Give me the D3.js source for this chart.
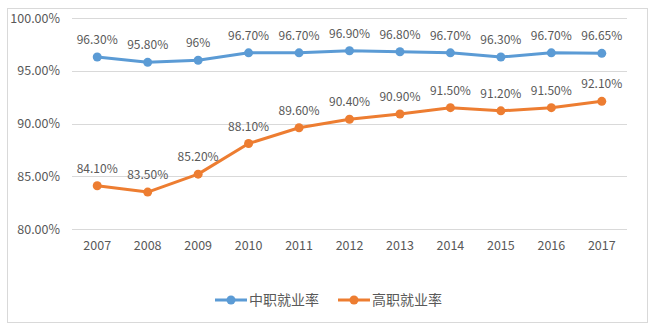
<!DOCTYPE html>
<html><head><meta charset="utf-8">
<script src="https://cdn.jsdelivr.net/npm/d3@7"></script>
<style>body{margin:0;background:#fff}svg{display:block}</style>
</head><body>
<svg id="c" width="654" height="330"></svg>
<script>
const years = ["2007","2008","2009","2010","2011","2012","2013","2014","2015","2016","2017"];
const zhongzhi = [96.30,95.80,96.00,96.70,96.70,96.90,96.80,96.70,96.30,96.70,96.65];
const zhongzhiLabels = ["96.30%","95.80%","96%","96.70%","96.70%","96.90%","96.80%","96.70%","96.30%","96.70%","96.65%"];
const gaozhi = [84.10,83.50,85.20,88.10,89.60,90.40,90.90,91.50,91.20,91.50,92.10];
const gaozhiLabels = ["84.10%","83.50%","85.20%","88.10%","89.60%","90.40%","90.90%","91.50%","91.20%","91.50%","92.10%"];
const yTicks = [80,85,90,95,100];
const seriesNames = ["中职就业率","高职就业率"];

const svg = d3.select("#c");
const font = "'Noto Sans CJK SC','Liberation Sans',sans-serif";
const textCol = "#595959";
const colors = ["#5B9BD5","#ED7D31"];

svg.append("rect").attr("x",7.5).attr("y",8.5).attr("width",640).attr("height",314)
  .attr("fill","#fff").attr("stroke","#d9d9d9");

const x = d3.scaleBand().domain(years).range([72,627]);
const y = d3.scaleLinear().domain([80,100]).range([229,18]);
const cx = d => x(d) + x.bandwidth()/2;

const g = svg.append("g");
g.selectAll("line.grid").data(yTicks).join("line")
  .attr("x1",72).attr("x2",627).attr("y1",d=>Math.round(y(d))+0.5).attr("y2",d=>Math.round(y(d))+0.5)
  .attr("stroke","#d9d9d9").attr("stroke-width",1);

const yAxis = svg.append("g").attr("transform","translate(72,0)")
  .call(d3.axisLeft(y).tickValues(yTicks).tickSize(0).tickPadding(12).tickFormat(d=>d.toFixed(2)+"%"));
yAxis.select(".domain").remove();
yAxis.selectAll("text").attr("font-family",font).attr("font-size",12.5).attr("fill",textCol);

const xAxis = svg.append("g").attr("transform","translate(0,229)")
  .call(d3.axisBottom(x).tickSize(0).tickPadding(12));
xAxis.select(".domain").remove();
xAxis.selectAll("text").attr("font-family",font).attr("font-size",12.5).attr("fill",textCol);

const series = [
  {vals:zhongzhi, labels:zhongzhiLabels, color:colors[0]},
  {vals:gaozhi, labels:gaozhiLabels, color:colors[1]}
];
const line = d3.line().x((d,i)=>cx(years[i])).y(d=>y(d));
series.forEach(s=>{
  svg.append("path").datum(s.vals).attr("d",line).attr("fill","none")
    .attr("stroke",s.color).attr("stroke-width",3).attr("stroke-linejoin","round");
  svg.selectAll(null).data(s.vals).join("circle")
    .attr("cx",(d,i)=>cx(years[i])).attr("cy",d=>y(d)).attr("r",4.5).attr("fill",s.color);
  svg.selectAll(null).data(s.vals).join("text")
    .attr("x",(d,i)=>cx(years[i])).attr("y",d=>y(d)-13)
    .attr("text-anchor","middle").attr("font-family",font).attr("font-size",12)
    .attr("fill",textCol).text((d,i)=>s.labels[i]);
});

// legend
const legX = [215, 338];
seriesNames.forEach((n,i)=>{
  const lg = svg.append("g").attr("transform",`translate(${legX[i]},300)`);
  lg.append("line").attr("x1",0).attr("x2",32).attr("y1",0).attr("y2",0)
    .attr("stroke",colors[i]).attr("stroke-width",3);
  lg.append("circle").attr("cx",16).attr("cy",0).attr("r",4.5).attr("fill",colors[i]);
  lg.append("text").attr("x",34).attr("y",0).attr("dy","0.35em")
    .attr("font-family",font).attr("font-size",14).attr("fill",textCol).text(n);
});
</script>
</body></html>
